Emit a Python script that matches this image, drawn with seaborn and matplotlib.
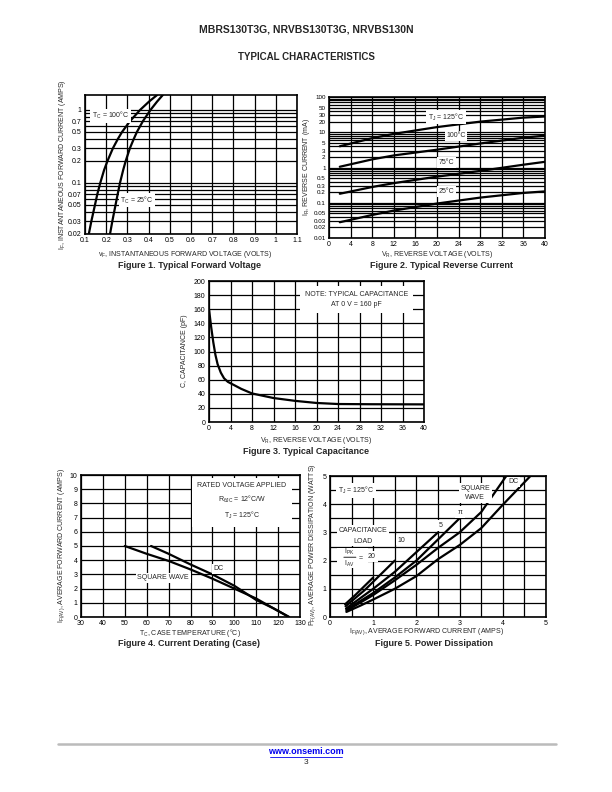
import matplotlib
matplotlib.use("Agg")
import matplotlib.pyplot as plt
from matplotlib import font_manager
from matplotlib.lines import Line2D
from matplotlib.ticker import FixedLocator, FixedFormatter, NullFormatter
import seaborn as sns

# Figure 1: forward current (A) and forward voltage (V)
if_grid = [0.02, 0.03, 0.05, 0.07, 0.1, 0.15, 0.2, 0.3, 0.4, 0.5, 0.7, 1.0, 1.3, 1.6]
vf_25 = [0.218, 0.229, 0.244, 0.254, 0.265, 0.280, 0.292, 0.312, 0.330, 0.345, 0.373, 0.409, 0.440, 0.467]
vf_100 = [0.118, 0.130, 0.147, 0.158, 0.172, 0.190, 0.206, 0.232, 0.255, 0.275, 0.312, 0.360, 0.402, 0.440]
fig1_yticks = [0.02, 0.03, 0.05, 0.07, 0.1, 0.2, 0.3, 0.5, 0.7, 1]
fig1_xticks = [0.1, 0.2, 0.3, 0.4, 0.5, 0.6, 0.7, 0.8, 0.9, 1.0, 1.1]
fig1_xlabels = ["0.1", "0.2", "0.3", "0.4", "0.5", "0.6", "0.7", "0.8", "0.9", "1", "1.1"]

# Figure 2: reverse voltage (V) vs reverse current (mA)
vr = [2, 8, 12, 20, 28, 36, 40]
ir_125 = [4.0, 6.8, 9.0, 14.0, 20.0, 26.0, 28.0]
ir_100 = [1.05, 1.7, 2.2, 3.2, 4.8, 7.0, 8.0]
ir_75 = [0.18, 0.28, 0.36, 0.55, 0.8, 1.2, 1.45]
ir_25 = [0.028, 0.045, 0.06, 0.095, 0.14, 0.19, 0.21]
fig2_yticks = [0.01, 0.02, 0.03, 0.05, 0.1, 0.2, 0.3, 0.5, 1, 2, 3, 5, 10, 20, 30, 50, 100]

# Figure 3: capacitance (pF) vs reverse voltage
cap_v = [0, 0.4, 0.8, 1.2, 1.6, 2.2, 2.8, 3.5, 4, 6, 8, 12, 16, 20, 24, 30, 40]
cap_pf = [160, 135, 113, 95, 82, 70, 62, 57, 55, 47, 40.5, 34, 30, 27, 25.5, 25.2, 25]

# Figure 4: current derating vs case temperature
tc_dc = [62, 70, 80, 90, 100, 110, 118, 125]
if_dc = [5.0, 4.45, 3.7, 3.0, 2.2, 1.2, 0.6, 0.0]
tc_sq = [50, 60, 70, 80, 90, 100, 110, 118, 125]
if_sq = [5.0, 4.45, 3.95, 3.35, 2.7, 2.0, 1.3, 0.6, 0.0]

# Figure 5: power dissipation vs average forward current
pd_x_20 = [0.35, 0.6, 1.0]
pd_y_20 = [0.45, 0.8, 1.4]
pd_x_10 = [0.36, 0.8, 1.5]
pd_y_10 = [0.38, 0.95, 2.0]
pd_x_5 = [0.37, 1.0, 1.5, 2.0, 2.5]
pd_y_5 = [0.3, 1.0, 1.6, 2.3, 3.0]
pd_x_pi = [0.38, 1.0, 1.5, 2.0, 2.5, 3.0]
pd_y_pi = [0.26, 0.85, 1.4, 2.0, 2.75, 3.5]
pd_x_sq = [0.38, 1.0, 1.5, 2.0, 2.5, 3.0, 3.5, 4.08]
pd_y_sq = [0.22, 0.78, 1.3, 1.85, 2.45, 3.0, 3.72, 5.0]
pd_x_dc = [0.38, 0.7, 1.0, 1.5, 2.0, 2.5, 3.0, 3.5, 4.0, 4.64]
pd_y_dc = [0.18, 0.4, 0.62, 1.0, 1.45, 2.05, 2.55, 3.15, 3.98, 5.0]


def pick_font(names):
  for name in names:
    try:
      font_manager.findfont(name, fallback_to_default=False)
      return name
    except ValueError:
      continue
  return "DejaVu Sans"


sns.set_style("white")
NARROW = pick_font(["Liberation Sans Narrow", "Liberation Sans"])
BOLD = pick_font(["Liberation Sans", "DejaVu Sans"])
plt.rcParams["font.family"] = [NARROW, "DejaVu Sans"]
plt.rcParams["mathtext.fontset"] = "custom"
plt.rcParams["mathtext.rm"] = NARROW
plt.rcParams["mathtext.it"] = NARROW
plt.rcParams["mathtext.sf"] = NARROW

W, H = 612, 792
fig = plt.figure(figsize=(W / 100, H / 100), dpi=100)
LW = 1.6
FS = 5
BOX = dict(facecolor="white", edgecolor="none", pad=1.2)


def add_axes(left, top, right, bottom):
  return fig.add_axes([left / W, 1 - bottom / H, (right - left) / W, (bottom - top) / H])


def style(ax):
  ax.set_axisbelow(True)
  ax.grid(True, which="both", color="black", lw=0.9)
  for s in ax.spines.values():
    s.set_color("black")
    s.set_linewidth(1.2)
  ax.tick_params(which="both", length=0, labelsize=5, pad=2.5, colors="black")
  ax.set_xlabel("")
  ax.set_ylabel("")


def page_text(x, y, s, **kw):
  fig.text(x / W, 1 - y / H, s, ha="center", va="center", **kw)


def curve(ax, x, y):
  sns.lineplot(x=x, y=y, ax=ax, color="black", lw=LW, estimator=None, sort=False)


def label(ax, x, y, s, **kw):
  kw.setdefault("bbox", BOX)
  ax.text(x, y, s, fontsize=FS, ha="center", va="center", **kw)


def fmt(v):
  return f"{v:g}"


# ---- Figure 1
ax1 = add_axes(85, 95, 297, 234)
curve(ax1, vf_25, if_grid)
curve(ax1, vf_100, if_grid)
ax1.set_yscale("log")
ax1.set_xlim(0.1, 1.1)
ax1.set_ylim(0.02, 1.6)
ax1.xaxis.set_major_locator(FixedLocator(fig1_xticks))
ax1.xaxis.set_major_formatter(FixedFormatter(fig1_xlabels))
ax1.yaxis.set_major_locator(FixedLocator(fig1_yticks))
ax1.yaxis.set_major_formatter(FixedFormatter([fmt(v) for v in fig1_yticks]))
ax1.yaxis.set_minor_locator(FixedLocator([0.04, 0.06, 0.08, 0.09, 0.4, 0.6, 0.8, 0.9]))
ax1.yaxis.set_minor_formatter(NullFormatter())
style(ax1)
label(ax1, 0.22, 0.83, r"T$_\mathrm{C}$ = 100°C")
label(ax1, 0.345, 0.058, r"T$_\mathrm{C}$ = 25°C")

# ---- Figure 2
ax2 = add_axes(329, 97, 545, 238)
for series in (ir_125, ir_100, ir_75, ir_25):
  curve(ax2, vr, series)
ax2.set_yscale("log")
ax2.set_xlim(0, 40)
ax2.set_ylim(0.01, 100)
ax2.set_xticks(range(0, 41, 4))
ax2.yaxis.set_major_locator(FixedLocator(fig2_yticks))
ax2.yaxis.set_major_formatter(FixedFormatter([fmt(v) for v in fig2_yticks]))
ax2.yaxis.set_minor_locator(FixedLocator([m * 10.0 ** e for e in range(-2, 2) for m in (4, 6, 7, 8, 9)]))
ax2.yaxis.set_minor_formatter(NullFormatter())
style(ax2)
ax2.tick_params(axis="y", labelsize=4.5)
label(ax2, 21.7, 27, r"T$_\mathrm{J}$ = 125°C")
label(ax2, 23.5, 7.9, "100°C")
label(ax2, 21.8, 1.4, "75°C")
label(ax2, 21.8, 0.21, "25°C")

# ---- Figure 3
ax3 = add_axes(209, 281, 424, 422)
curve(ax3, cap_v, cap_pf)
ax3.set_xlim(0, 40)
ax3.set_ylim(0, 200)
ax3.set_xticks(range(0, 41, 4))
ax3.set_yticks(range(0, 201, 20))
style(ax3)
label(ax3, 27.5, 174, "NOTE: TYPICAL CAPACITANCE\nAT 0 V = 160 pF", linespacing=1.7,
      bbox=dict(facecolor="white", edgecolor="none", pad=3.5))

# ---- Figure 4
ax4 = add_axes(81, 475, 300, 617)
curve(ax4, tc_dc, if_dc)
curve(ax4, tc_sq, if_sq)
ax4.set_xlim(30, 130)
ax4.set_ylim(0, 10)
ax4.set_xticks(range(30, 131, 10))
ax4.set_yticks(range(0, 11))
style(ax4)
label(ax4, 103.4, 8.1, "RATED VOLTAGE APPLIED\n" r"R$_{\mathrm{\theta JC}}$ = 12°C/W" "\n" r"T$_\mathrm{J}$ = 125°C",
      linespacing=1.6, bbox=dict(facecolor="white", edgecolor="none", pad=4))
label(ax4, 67.5, 2.75, "SQUARE WAVE")
label(ax4, 92.7, 3.4, "DC")

# ---- Figure 5
ax5 = add_axes(330, 476, 546, 617)
for xs, ys in ((pd_x_20, pd_y_20), (pd_x_10, pd_y_10), (pd_x_5, pd_y_5),
               (pd_x_pi, pd_y_pi), (pd_x_sq, pd_y_sq), (pd_x_dc, pd_y_dc)):
  curve(ax5, xs, ys)
ax5.set_xlim(0, 5)
ax5.set_ylim(0, 5)
ax5.set_xticks(range(0, 6))
ax5.set_yticks(range(0, 6))
ax5.xaxis.set_minor_locator(FixedLocator([0.5, 1.5, 2.5, 3.5, 4.5]))
ax5.yaxis.set_minor_locator(FixedLocator([0.5, 1.5, 2.5, 3.5, 4.5]))
style(ax5)
label(ax5, 0.6, 4.49, r"T$_\mathrm{J}$ = 125°C")
# I_PK / I_AV = 20 written as a stacked fraction on a white patch
label(ax5, 0.52, 2.1, " " * 14 + "\n", linespacing=1.5)
label(ax5, 0.77, 2.88, "CAPACITANCE\nLOAD", linespacing=1.7)
label(ax5, 0.45, 2.3, r"I$_\mathrm{PK}$", bbox=None)
label(ax5, 0.45, 1.9, r"I$_\mathrm{AV}$", bbox=None)
ax5.annotate("", xy=(0.32, 2.12), xytext=(0.6, 2.12),
             arrowprops=dict(arrowstyle="-", color="black", lw=0.6, shrinkA=0, shrinkB=0))
label(ax5, 0.7, 2.08, "=", bbox=None)
label(ax5, 0.97, 2.15, "20")
label(ax5, 1.66, 2.72, "10")
label(ax5, 2.55, 3.25, "5")
label(ax5, 3.01, 3.72, r"$\pi$")
label(ax5, 3.36, 4.4, "SQUARE\nWAVE", linespacing=1.5)
label(ax5, 4.25, 4.79, "DC")

# ---- axis titles placed on the page
ax_kw = dict(fontsize=FS)
page_text(185, 255, r"v$_\mathrm{F}$, INSTANTANEOUS FORWARD VOLTAGE (VOLTS)", **ax_kw)
page_text(63, 165, r"I$_\mathrm{F}$, INSTANTANEOUS FORWARD CURRENT (AMPS)", rotation=90, **ax_kw)
page_text(437, 254, r"V$_\mathrm{R}$, REVERSE VOLTAGE (VOLTS)", **ax_kw)
page_text(306, 167, r"I$_\mathrm{R}$, REVERSE CURRENT (mA)", rotation=90, **ax_kw)
page_text(316, 440, r"V$_\mathrm{R}$, REVERSE VOLTAGE (VOLTS)", **ax_kw)
page_text(184, 351, "C, CAPACITANCE (pF)", rotation=90, **ax_kw)
page_text(190, 633, r"T$_\mathrm{C}$, CASE TEMPERATURE (°C)", **ax_kw)
page_text(62, 545, r"I$_\mathrm{F(AV)}$, AVERAGE FORWARD CURRENT (AMPS)", rotation=90, **ax_kw)
page_text(427, 632, r"I$_\mathrm{F(AV)}$, AVERAGE FORWARD CURRENT (AMPS)", **ax_kw)
page_text(313, 545, r"P$_\mathrm{F(AV)}$, AVERAGE POWER DISSIPATION (WATTS)", rotation=90, **ax_kw)

# ---- page texts
page_text(306, 30, "MBRS130T3G, NRVBS130T3G, NRVBS130N", fontsize=7.5, fontweight="bold", family=BOLD)
page_text(306, 57, "TYPICAL CHARACTERISTICS", fontsize=7, fontweight="bold", family=BOLD)
cap_kw = dict(fontsize=6.5, fontweight="bold", family=BOLD)
page_text(190, 265, "Figure 1. Typical Forward Voltage", **cap_kw)
page_text(441, 265, "Figure 2. Typical Reverse Current", **cap_kw)
page_text(306, 451, "Figure 3. Typical Capacitance", **cap_kw)
page_text(189, 644, "Figure 4. Current Derating (Case)", **cap_kw)
page_text(434, 644, "Figure 5. Power Dissipation", **cap_kw)

fig.add_artist(Line2D([58 / W, 556 / W], [1 - 744 / H, 1 - 744 / H], color="#bbbbbb", lw=1.8))
page_text(306, 752, "www.onsemi.com", fontsize=6.5, fontweight="bold", color="#0000ee", family=BOLD)
fig.add_artist(Line2D([270 / W, 342 / W], [1 - 757 / H, 1 - 757 / H], color="#0000ee", lw=0.6))
page_text(306, 762, "3", fontsize=6, family=BOLD)

fig.savefig("out.png", dpi=100, facecolor="white")
